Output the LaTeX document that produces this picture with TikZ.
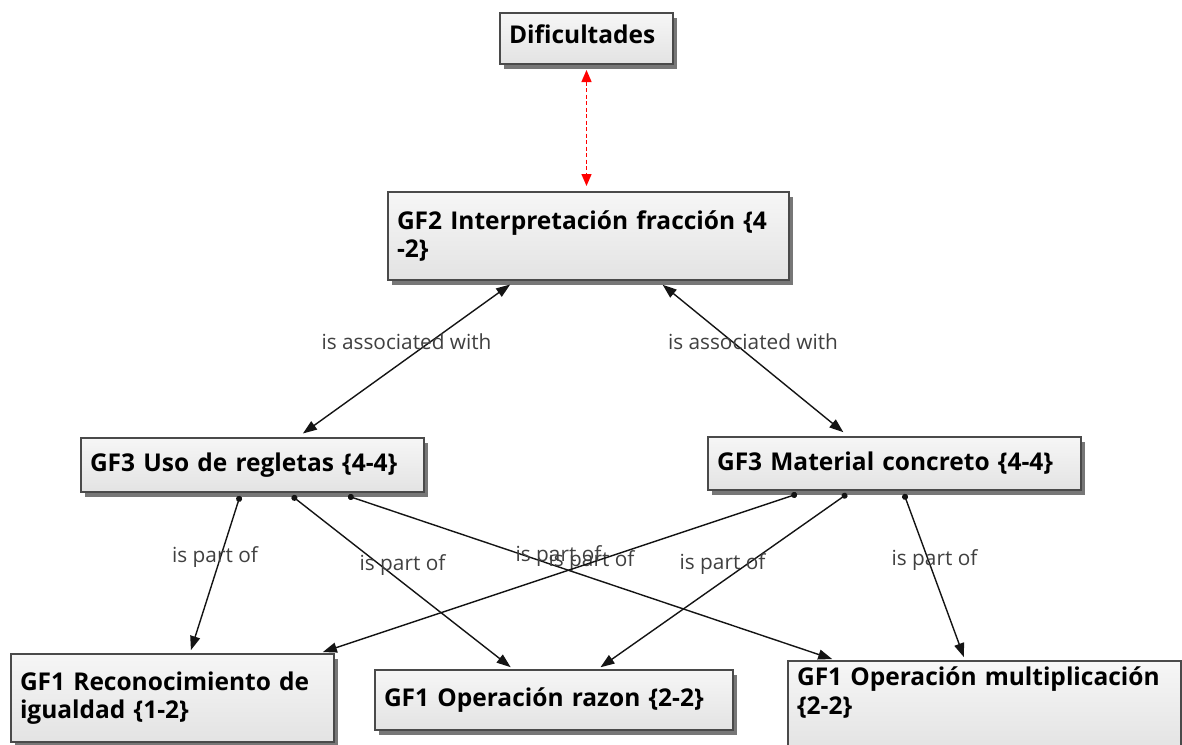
\documentclass[tikz,border=0pt]{standalone}
\usepackage{fontspec}
\setmainfont{Open Sans}
\usetikzlibrary{arrows.meta,shadows,calc}

\definecolor{boxline}{HTML}{4A4A4A}
\definecolor{boxtop}{HTML}{F6F6F6}
\definecolor{boxbot}{HTML}{E3E3E3}
\definecolor{lbl}{HTML}{404040}
\definecolor{shadowgray}{HTML}{555555}

\tikzset{
  concept/.style={draw=boxline, line width=2pt, top color=boxtop, bottom color=boxbot,
    anchor=north west, inner xsep=9pt, inner ysep=0pt, align=left,
    font=\fontsize{24.5}{28.5}\selectfont\bfseries,
    drop shadow={shadow xshift=3.5pt, shadow yshift=-4.5pt, fill=shadowgray, opacity=0.8}},
  link/.style={draw=black!92, line width=1.4pt},
  rel/.style={font=\fontsize{20.8}{24}\selectfont, text=lbl, midway, yshift=17pt},
  partof/.style={link, {Circle[length=6pt]}-{Triangle[length=14pt,width=10pt]}, shorten >=3pt},
  assoc/.style={link, {Triangle[length=14pt,width=10pt]}-{Triangle[length=14pt,width=10pt]},
    shorten <=6pt, shorten >=6pt},
  hint/.style={draw=red, line width=1.4pt, dash pattern=on 4pt off 2.5pt,
    {Triangle[length=12pt,width=10pt]}-{Triangle[length=12pt,width=10pt]},
    shorten <=5pt, shorten >=5pt}
}

\begin{document}
\begin{tikzpicture}[x=1pt, y=-1pt]
  \clip (0,0) rectangle (1182,744);
  \fill[white] (0,0) rectangle (1182,744);

  % concept boxes
  \node[concept, text width=155pt, minimum height=51pt, text depth=9pt] (dif) at (499,12) {Dificultades};
  \node[concept, text width=383pt, minimum height=88pt] (gf2) at (387,191)
    {GF2 Interpretación fracción \{4\\-2\}};
  \node[concept, text width=325pt, minimum height=54pt] (uso) at (80,437)
    {GF3 Uso de regletas \{4-4\}};
  \node[concept, text width=355pt, minimum height=53pt] (mat) at (707,436)
    {GF3 Material concreto \{4-4\}};
  \node[concept, text width=305pt, minimum height=88pt] (rec) at (10,653)
    {GF1 Reconocimiento de\\igualdad \{1-2\}};
  \node[concept, text width=340pt, minimum height=60pt] (raz) at (374,669)
    {GF1 Operación razon \{2-2\}};
  \node[concept, text width=375pt, inner ysep=6pt, text depth=60pt] (mul) at (787,660)
    {GF1 Operación multiplicación\\\{2-2\}};

  % red dashed link between Dificultades and GF2
  \draw[hint] (dif.south) -- (dif.south |- gf2.north);

  % association links
  \draw[assoc] ([xshift=218pt]uso.north west) -- ([xshift=128pt]gf2.south west)
    node[rel] {is associated with};
  \draw[assoc] ([xshift=271pt]gf2.south west) -- ([xshift=141pt]mat.north west)
    node[rel] {is associated with};

  % part-of links from GF3 Uso de regletas
  \draw[partof] ([xshift=160pt,yshift=-3pt]uso.south west) -- ([xshift=180pt]rec.north west)
    node[rel] {is part of};
  \draw[partof] ([xshift=212pt,yshift=-3pt]uso.south west) -- ([xshift=139pt]raz.north west)
    node[rel] {is part of};
  \draw[partof] ([xshift=268pt,yshift=-3pt]uso.south west) -- ([xshift=48pt]mul.north west)
    node[rel] {is part of};

  % part-of links from GF3 Material concreto
  \draw[partof] ([xshift=90pt,yshift=-3pt]mat.south west) -- ([xshift=310pt]rec.north west)
    node[rel] {is part of};
  \draw[partof] ([xshift=140pt,yshift=-3pt]mat.south west) -- ([xshift=224pt]raz.north west)
    node[rel] {is part of};
  \draw[partof] ([xshift=197pt,yshift=-3pt]mat.south west) -- ([xshift=178pt]mul.north west)
    node[rel] {is part of};
\end{tikzpicture}
\end{document}
